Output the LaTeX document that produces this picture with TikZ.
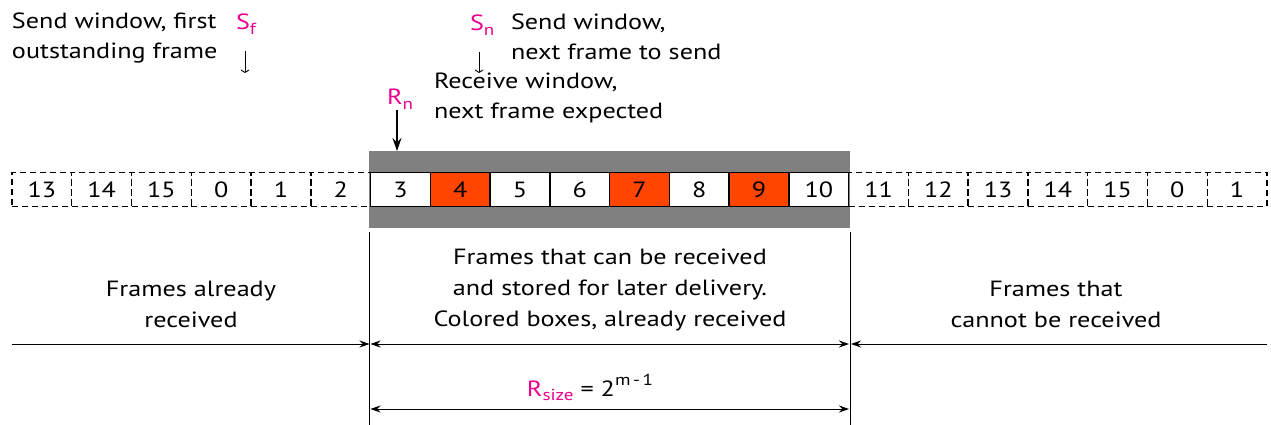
\documentclass[tikz,border=0pt]{standalone}
\usepackage{fontspec}
\setmainfont[FakeStretch=1.19]{PT Sans}
\usetikzlibrary{arrows.meta}
\definecolor{pinkc}{RGB}{236,0,140}
\definecolor{orangec}{RGB}{255,69,0}
\definecolor{greyc}{RGB}{128,128,128}
\newcommand{\lowsub}[1]{\raisebox{-0.45ex}{\fontsize{16}{16}\selectfont #1}}
\newcommand{\highsup}[1]{\raisebox{1.0ex}{\fontsize{16}{16}\selectfont #1}}
\begin{document}
\begin{tikzpicture}[x=1pt,y=-1pt,
  every node/.style={font=\fontsize{22}{30}\selectfont, inner sep=0pt, outer sep=0pt},
  dbox/.style={draw=black, line width=1.4pt, dash pattern=on 6pt off 4pt, minimum width=59.76pt, minimum height=34pt},
  sbox/.style={draw=black, line width=1.4pt, fill=white, minimum width=59.76pt, minimum height=34pt},
  obox/.style={sbox, fill=orangec},
  txt/.style={align=center, anchor=north, font=\fontsize{22}{31}\selectfont},
  ltxt/.style={align=left, anchor=north west},
  dim/.style={line width=1pt, arrows={-Stealth[length=10pt,width=7pt]}},
  ddim/.style={line width=1pt, arrows={Stealth[length=10pt,width=7pt]-Stealth[length=10pt,width=7pt]}},
  thinarr/.style={line width=0.9pt, arrows={-Straight Barb[length=2.5pt,width=8pt]}},
  bigarr/.style={line width=1.2pt, arrows={-Stealth[length=13pt,width=9pt]}}
  ]
\useasboundingbox (0,0) rectangle (1271,425);
% receive window background
\node[fill=greyc, minimum width=481pt, minimum height=77pt] (win) at (609.5,189.5) {};
% dashed boxes left
\foreach \lab [count=\i from 0] in {13,14,15,0,1,2}
  \node[dbox] (b\i) at ({12+29.88+\i*59.76},189.5) {\lab};
% window boxes
\foreach \lab/\st [count=\i from 6] in {3/sbox,4/obox,5/sbox,6/sbox,7/obox,8/sbox,9/obox,10/sbox}
  \node[\st] (b\i) at ({12+29.88+\i*59.76},189.5) {\lab};
% dashed boxes right
\foreach \lab [count=\i from 14] in {11,12,13,14,15,0,1}
  \node[dbox] (b\i) at ({12+29.88+\i*59.76},189.5) {\lab};

% top labels
\node[ltxt] (sftxt) at (12,13) {Send window, first\\outstanding frame};
\node[anchor=base west, text=pinkc] (sf) at (236,30) {S\lowsub{f}};
\coordinate (sfa) at (245,51);
\coordinate (sfb) at (245,73);
\draw[thinarr] (sfa) -- (sfb);

\node[anchor=base west, text=pinkc] (sn) at (470,31) {S\lowsub{n}};
\node[ltxt] (sntxt) at (511,14) {Send window,\\next frame to send};
\coordinate (sna) at (479,52);
\coordinate (snb) at (479,73);
\draw[thinarr] (sna) -- (snb);

\node[anchor=base west, text=pinkc] (rn) at (387,105) {R\lowsub{n}};
\node[ltxt] (rntxt) at (434,73) {Receive window,\\next frame expected};
\coordinate (rna) at (397,110);
\draw[bigarr] (rna) -- (397,151);

% vertical limits
\coordinate (vl1) at (369.5,232);
\coordinate (vl2) at (369.5,425);
\coordinate (vr1) at (850,232);
\coordinate (vr2) at (850,425);
\draw[line width=1pt] (vl1) -- (vl2);
\draw[line width=1pt] (vr1) -- (vr2);

% region labels
\node[txt] (lt) at (191,281) {Frames already\\received};
\node[txt] (mt) at (610,249) {Frames that can be received\\and stored for later delivery.\\Colored boxes, already received};
\node[txt] (rt) at (1056,281) {Frames that\\cannot be received};

% dimension arrows
\coordinate (l0) at (12,344);
\coordinate (l1) at (369.5,344);
\coordinate (m0) at (370.5,344);
\coordinate (m1) at (849,344);
\coordinate (r0) at (851,344);
\coordinate (r1) at (1267,344);
\draw[dim] (l0) -- (l1);
\draw[ddim] (m0) -- (m1);
\draw[dim] (r1) -- (r0);

\node[anchor=base] (rs) at (590,396) {\textcolor{pinkc}{R\lowsub{size}} = 2\highsup{m\,-\,1}};
\coordinate (s0) at (370.5,409);
\coordinate (s1) at (849,409);
\draw[ddim] (s0) -- (s1);
\end{tikzpicture}
\end{document}
